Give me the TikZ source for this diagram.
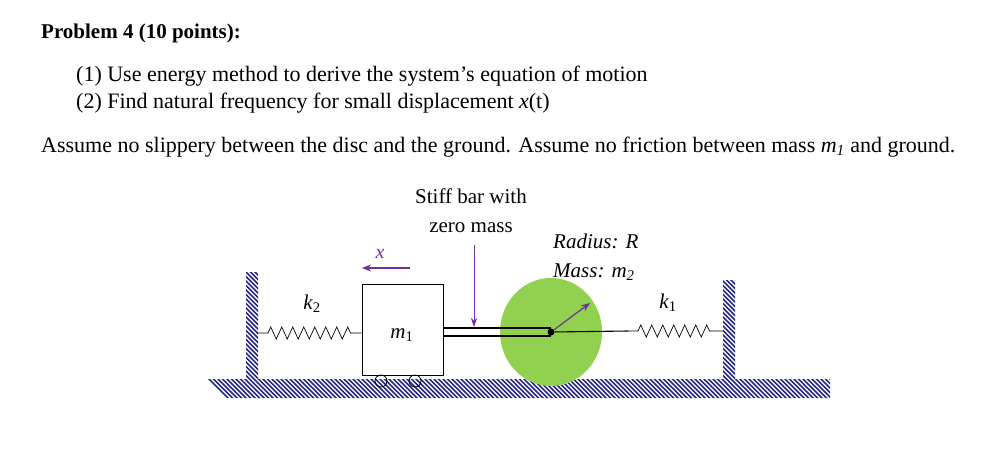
\documentclass[tikz,border=0pt]{standalone}
\usepackage{fontspec}
\setmainfont{Liberation Serif}
\usetikzlibrary{decorations.pathmorphing,arrows.meta,shapes.geometric}
\definecolor{hatch}{RGB}{40,40,140}
\definecolor{discgreen}{RGB}{146,208,80}
\definecolor{purp}{RGB}{112,48,160}
\tikzset{
 txt/.style={anchor=west,inner sep=0pt,font=\fontsize{22}{24}\selectfont},
 lbl/.style={inner sep=0pt,font=\fontsize{21}{23}\selectfont},
 springy/.style={decorate,decoration={zigzag,segment length=11pt,amplitude=6pt,pre length=10pt,post length=10pt}},
 parrow/.style={purp,-{Stealth[length=9pt,width=7pt]},line width=1.2pt}
}
\newcommand{\myhatch}[4]{%
 \begin{scope}
 \clip (#1,#2) rectangle (#3,#4);
 \foreach \i in {#1,4,...,#3}{}%
 \pgfmathsetmacro{\hs}{#1-30}
 \foreach \i in {\hs,...,#3}{}%
 \end{scope}}
\begin{document}
\begin{tikzpicture}[x=1pt,y=-1pt]
\useasboundingbox (0,0) rectangle (1002,459);
\node[txt,font=\fontsize{21}{23}\selectfont\bfseries] (title) at (41,33) {Problem 4 (10 points):};
\node[txt] (l1) at (76,76) {(1) Use energy method to derive the system's equation of motion};
\node[txt] (l2) at (76,103) {(2) Find natural frequency for small displacement \textit{x}(t)};
\node[txt] (l3) at (41,147) {Assume no slippery between the disc and the ground. Assume no friction between mass \textit{m\textsubscript{1}} and ground.};
% ground and walls
\begin{scope}
\clip (140,379) rectangle (830,398) (246,272) rectangle (258,379) (723,280) rectangle (735,379);
\foreach \i in {100,104.5,...,850}
 \draw[hatch,line width=1.6pt] (\i,270) -- (\i+130,400);
\end{scope}
% block
\node[draw,line width=0.8pt,minimum width=81pt,minimum height=91pt,inner sep=0pt] (m1) at (402.5,329.5) {};
\node[lbl] (m1l) at (402,335) {\textit{m}\textsubscript{1}};
\node[draw,line width=0.8pt,circle,minimum size=12pt,inner sep=0pt] (w1) at (381,381) {};
\node[draw,line width=0.8pt,circle,minimum size=12pt,inner sep=0pt] (w2) at (415,381) {};
% disc
\node[fill=discgreen,ellipse,minimum width=102pt,minimum height=108pt,inner sep=0pt,draw=none] (disc) at (551,332) {};
\node[circle,fill=black,minimum size=7pt,inner sep=0pt] (c) at (551,332) {};
% bar
\coordinate (b1) at (443,328);
\coordinate (b2) at (443,336);
\draw[line width=1.1pt] (b1) -- (551,328);
\draw[line width=1.1pt] (b2) -- (551,336);
% springs
\coordinate (wl) at (258,333);
\coordinate (wr) at (723,331);
\coordinate (s1) at (628,331);
\draw[line width=0.7pt,springy] (wl) -- (m1.west |- wl);
\draw[line width=1.1pt] (c) -- (s1);
\draw[line width=0.7pt,springy] (s1) -- (wr);
\node[lbl] (k2) at (312,304) {\textit{k}\textsubscript{2}};
\node[lbl] (k1) at (668,303) {\textit{k}\textsubscript{1}};
% arrows
\coordinate (xs) at (410,268);
\coordinate (xe) at (362,268);
\draw[parrow] (xs) -- (xe);
\node[lbl,purp,font=\fontsize{20}{22}\selectfont\itshape] (xl) at (380,254) {x};
\coordinate (va) at (474,245);
\coordinate (vb) at (474,327);
\draw[purp,-{Stealth[length=9pt,width=6pt]},line width=0.7pt] (va) -- (vb);
\coordinate (ra) at (590,303);
\draw[parrow] (c) -- (ra);
\node[lbl] (st1) at (471,196) {Stiff bar with};
\node[lbl] (st2) at (471,228) {zero mass};
\node[lbl,anchor=west,font=\fontsize{21}{23}\selectfont\itshape] (rad) at (553,241) {Radius: R};
\node[lbl,anchor=west,font=\fontsize{21}{23}\selectfont\itshape] (mass) at (553,272) {Mass: m\textsubscript{2}};
\end{tikzpicture}
\end{document}
